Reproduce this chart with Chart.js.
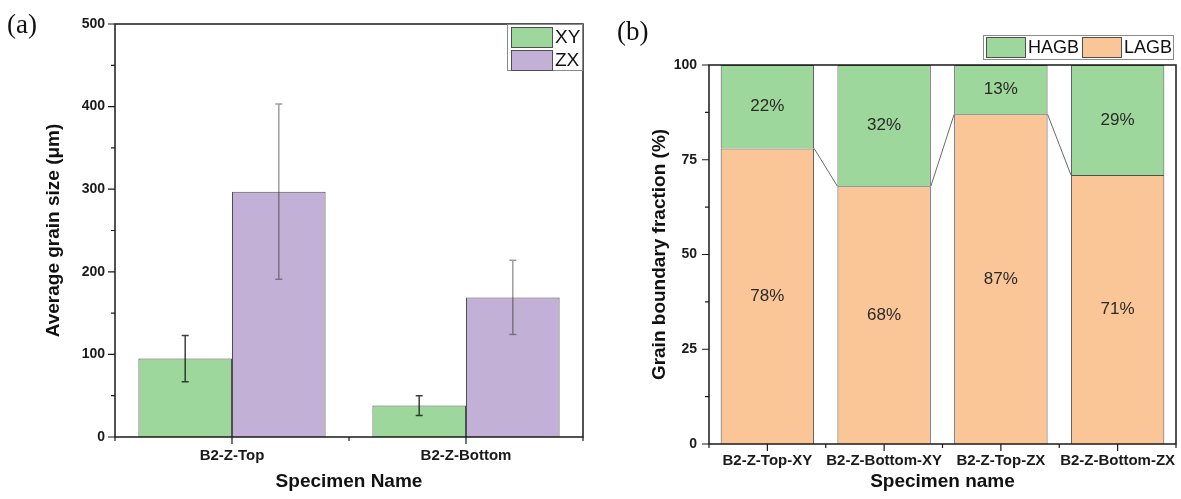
<!DOCTYPE html>
<html>
<head>
<meta charset="utf-8">
<script src="https://cdn.jsdelivr.net/npm/chart.js@4.4.1/dist/chart.umd.min.js"></script>
<style>
    body {
        margin: 0;
        background: #ffffff;
        width: 1181px;
        height: 499px;
        position: relative;
        overflow: hidden;
    }

    .panel {
        position: absolute;
        top: 0;
        height: 499px;
    }

    #panelA { left: 0; width: 600px; }
    #panelB { left: 600px; width: 581px; }

    .etiqueta-panel {
        position: absolute;
        font-family: "Liberation Serif", "DejaVu Serif", serif;
        font-size: 27px;
        color: #111111;
        line-height: 1;
    }
</style>
</head>
<body>
<div class="panel" id="panelA"><canvas id="graficaTamano" width="600" height="499"></canvas></div>
<div class="panel" id="panelB"><canvas id="graficaFraccion" width="581" height="499"></canvas></div>
<div class="etiqueta-panel" style="left: 7px; top: 11px;">(a)</div>
<div class="etiqueta-panel" style="left: 617px; top: 18px;">(b)</div>

<script>
// (a) tamano de grano promedio
const especimenes = ["B2-Z-Top", "B2-Z-Bottom"];
const tamanoXY = [95, 38];
const errorXY = [28, 12];
const tamanoZX = [297, 169];
const errorZX = [106, 45];
const ticksTamano = [0, 100, 200, 300, 400, 500];

// (b) fraccion de limites de grano
const muestras = ["B2-Z-Top-XY", "B2-Z-Bottom-XY", "B2-Z-Top-ZX", "B2-Z-Bottom-ZX"];
const fraccionLAGB = [78, 68, 87, 71];
const fraccionHAGB = [22, 32, 13, 29];
const ticksFraccion = [0, 25, 50, 75, 100];

const FUENTE = "'Liberation Sans', Arial, sans-serif";
const VERDE = "#9ed79b";
const MORADO = "#c2b0d6";
const NARANJA = "#fac698";
const BORDE = "#4f4f4f";

// marco completo + marcas mayores y menores
const marcoEjes = {
    id: "marcoEjes",
    afterDatasetsDraw(chart) {
        const { ctx, chartArea: a, scales: { x, y } } = chart;
        ctx.save();
        ctx.strokeStyle = "#1a1a1a";
        ctx.lineWidth = 1.2;
        ctx.beginPath();

        const valores = y.ticks.map(t => t.value);
        valores.forEach((v, i) => {
            const py = y.getPixelForValue(v);
            ctx.moveTo(a.left, py);
            ctx.lineTo(a.left - 7, py);
            if (i > 0) {
                const pm = y.getPixelForValue((v + valores[i - 1]) / 2);
                ctx.moveTo(a.left, pm);
                ctx.lineTo(a.left - 4, pm);
            }
        });

        const n = x.getLabels().length;
        for (let i = 0; i < n; i++) {
            const px = x.getPixelForValue(i);
            ctx.moveTo(px, a.bottom);
            ctx.lineTo(px, a.bottom + 7);
        }
        for (let i = 0; i <= n; i++) {
            const px = x.getPixelForValue(i - 0.5);
            ctx.moveTo(px, a.bottom);
            ctx.lineTo(px, a.bottom + 4);
        }
        ctx.stroke();

        ctx.lineWidth = 1.5;
        ctx.strokeRect(a.left, a.top, a.right - a.left, a.bottom - a.top);
        ctx.restore();
    }
};

// barras de error verticales con tapas
const barrasError = {
    id: "barrasError",
    afterDatasetsDraw(chart) {
        const { ctx, scales: { y } } = chart;
        chart.data.datasets.forEach((ds, d) => {
            if (!ds.errores) return;
            const meta = chart.getDatasetMeta(d);
            ctx.save();
            ctx.strokeStyle = ds.colorError;
            ctx.lineWidth = 1.5;
            ctx.beginPath();
            meta.data.forEach((barra, i) => {
                const v = ds.data[i];
                const e = ds.errores[i];
                const arriba = y.getPixelForValue(v + e);
                const abajo = y.getPixelForValue(v - e);
                ctx.moveTo(barra.x, arriba);
                ctx.lineTo(barra.x, abajo);
                ctx.moveTo(barra.x - 3.5, arriba);
                ctx.lineTo(barra.x + 3.5, arriba);
                ctx.moveTo(barra.x - 3.5, abajo);
                ctx.lineTo(barra.x + 3.5, abajo);
            });
            ctx.stroke();
            ctx.restore();
        });
    }
};

// porcentajes dentro de cada segmento y lineas de union entre columnas
const etiquetasApiladas = {
    id: "etiquetasApiladas",
    afterDatasetsDraw(chart) {
        const { ctx } = chart;
        ctx.save();

        const base = chart.getDatasetMeta(0).data;
        ctx.strokeStyle = "#6a6a6a";
        ctx.lineWidth = 1;
        ctx.beginPath();
        for (let i = 0; i < base.length - 1; i++) {
            const a = base[i];
            const b = base[i + 1];
            ctx.moveTo(a.x + a.width / 2, a.y);
            ctx.lineTo(b.x - b.width / 2, b.y);
        }
        ctx.stroke();

        ctx.fillStyle = "#2a2a2a";
        ctx.font = "17px " + FUENTE;
        ctx.textAlign = "center";
        ctx.textBaseline = "middle";
        chart.data.datasets.forEach((ds, d) => {
            chart.getDatasetMeta(d).data.forEach((barra, i) => {
                ctx.fillText(ds.data[i] + "%", barra.x, (barra.y + barra.base) / 2);
            });
        });
        ctx.restore();
    }
};

// leyenda dibujada dentro del area, en la posicion indicada
const leyendaCaja = {
    id: "leyendaCaja",
    afterDraw(chart, args, opts) {
        const { ctx } = chart;
        const [bx, by, bw, bh] = opts.caja;
        ctx.save();
        ctx.fillStyle = "#ffffff";
        ctx.fillRect(bx, by, bw, bh);
        ctx.strokeStyle = "#8a8a8a";
        ctx.lineWidth = 1;
        ctx.strokeRect(bx + 0.5, by + 0.5, bw, bh);

        ctx.font = opts.letra + "px " + FUENTE;
        ctx.textBaseline = "middle";
        ctx.textAlign = "left";
        opts.items.forEach(item => {
            const ds = chart.data.datasets[item.ds];
            ctx.fillStyle = ds.backgroundColor;
            ctx.fillRect(item.x, item.y, opts.ancho, opts.alto);
            ctx.strokeStyle = BORDE;
            ctx.strokeRect(item.x + 0.5, item.y + 0.5, opts.ancho, opts.alto);
            ctx.fillStyle = "#111111";
            ctx.fillText(ds.label, item.x + opts.ancho + 3, item.y + opts.alto / 2 + 1);
        });
        ctx.restore();
    }
};

function ejeX(titulo, alto, relleno) {
    return {
        type: "category",
        offset: true,
        grid: { display: false, drawTicks: false },
        border: { display: false },
        ticks: {
            color: "#1a1a1a",
            padding: relleno,
            maxRotation: 0,
            autoSkip: false,
            font: { family: FUENTE, size: 15, weight: "bold" }
        },
        title: {
            display: true,
            text: titulo,
            color: "#111111",
            padding: { top: 0, bottom: 6 },
            font: { family: FUENTE, size: 19, weight: "bold" }
        },
        afterFit(escala) {
            escala.height = alto;
            escala.paddingLeft = 0;
            escala.paddingRight = 0;
        }
    };
}

function ejeY(titulo, marcas, ancho, posTitulo, relleno) {
    return {
        min: marcas[0],
        max: marcas[marcas.length - 1],
        grid: { display: false, drawTicks: false },
        border: { display: false },
        afterBuildTicks(escala) {
            escala.ticks = marcas.map(v => ({ value: v }));
        },
        ticks: {
            color: "#1a1a1a",
            padding: relleno,
            font: { family: FUENTE, size: 14, weight: "bold" }
        },
        title: {
            display: true,
            text: titulo,
            color: "#111111",
            padding: { top: posTitulo, bottom: 0 },
            font: { family: FUENTE, size: 19, weight: "bold" }
        },
        afterFit(escala) { escala.width = ancho; }
    };
}

new Chart(document.getElementById("graficaTamano"), {
    type: "bar",
    data: {
        labels: especimenes,
        datasets: [
            {
                label: "XY",
                data: tamanoXY,
                errores: errorXY,
                colorError: "rgba(30, 30, 30, 0.85)",
                backgroundColor: VERDE,
                borderColor: BORDE,
                borderWidth: 1,
                categoryPercentage: 0.8,
                barPercentage: 1.0
            },
            {
                label: "ZX",
                data: tamanoZX,
                errores: errorZX,
                colorError: "rgba(40, 40, 40, 0.45)",
                backgroundColor: MORADO,
                borderColor: BORDE,
                borderWidth: 1,
                categoryPercentage: 0.8,
                barPercentage: 1.0
            }
        ]
    },
    options: {
        responsive: false,
        animation: false,
        layout: { padding: { top: 24, right: 17, bottom: 0, left: 0 } },
        plugins: {
            legend: { display: false },
            tooltip: { enabled: false },
            leyendaCaja: {
                caja: [507, 24, 75, 46],
                ancho: 41,
                alto: 20,
                letra: 19,
                items: [{ ds: 0, x: 511, y: 27 }, { ds: 1, x: 511, y: 50 }]
            }
        },
        scales: {
            x: ejeX("Specimen Name", 62, 10),
            y: ejeY("Average grain size (μm)", ticksTamano, 115, 42, 10)
        }
    },
    plugins: [barrasError, marcoEjes, leyendaCaja]
});

new Chart(document.getElementById("graficaFraccion"), {
    type: "bar",
    data: {
        labels: muestras,
        datasets: [
            {
                label: "LAGB",
                data: fraccionLAGB,
                backgroundColor: NARANJA,
                borderColor: BORDE,
                borderWidth: 1,
                categoryPercentage: 0.8,
                barPercentage: 1.0
            },
            {
                label: "HAGB",
                data: fraccionHAGB,
                backgroundColor: VERDE,
                borderColor: BORDE,
                borderWidth: 1,
                categoryPercentage: 0.8,
                barPercentage: 1.0
            }
        ]
    },
    options: {
        responsive: false,
        animation: false,
        layout: { padding: { top: 65, right: 5, bottom: 0, left: 0 } },
        plugins: {
            legend: { display: false },
            tooltip: { enabled: false },
            leyendaCaja: {
                caja: [383, 35, 190, 24],
                ancho: 39,
                alto: 20,
                letra: 18,
                items: [{ ds: 1, x: 386, y: 37 }, { ds: 0, x: 482, y: 37 }]
            }
        },
        scales: {
            x: { ...ejeX("Specimen name", 55, 8), stacked: true },
            y: { ...ejeY("Grain boundary fraction (%)", ticksFraccion, 109, 48, 12), stacked: true }
        }
    },
    plugins: [etiquetasApiladas, marcoEjes, leyendaCaja]
});
</script>
</body>
</html>
